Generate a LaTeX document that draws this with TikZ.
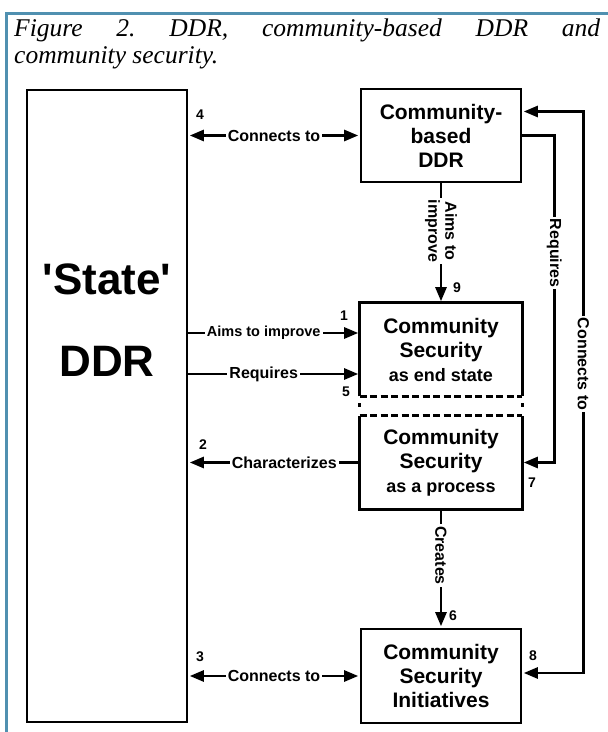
\documentclass[tikz,border=0pt]{standalone}
\usepackage{fontspec}
\usepackage{tikz}
\usetikzlibrary{arrows.meta}
\newfontfamily\arialfont{Liberation Sans}
\newfontfamily\captionfont{Liberation Serif}
\definecolor{framecol}{RGB}{80,144,176}
\frenchspacing

\begin{document}
\begin{tikzpicture}[x=1pt,y=-1pt,
	box/.style={draw, line width=2.6pt, align=center, inner sep=0pt, minimum width=160pt, font=\arialfont\bfseries\fontsize{21}{24}\selectfont},
	link/.style={line width=2.6pt},
	onehead/.style={-{Triangle[length=14pt,width=11pt]}, shorten >=1.5pt},
	twoheads/.style={{Triangle[length=14pt,width=11pt]}-{Triangle[length=14pt,width=11pt]}, shorten >=1.5pt, shorten <=1.5pt},
	lbl/.style={fill=white, inner sep=2pt, font=\arialfont\bfseries\fontsize{16}{17}\selectfont},
	num/.style={inner sep=0pt, font=\arialfont\bfseries\fontsize{14}{14}\selectfont},
	splitdash/.style={line width=2.6pt, dash pattern=on 7pt off 3.5pt},
	caption/.style={anchor=base west, inner sep=0pt, font=\captionfont\itshape\fontsize{25.5}{28}\selectfont}]
	\useasboundingbox (0,0) rectangle (608,732);
	\draw[framecol, line width=3pt] (6,732) -- (6,13) -- (608,13);
	\node[caption] (title1) at (14,36) {\makebox[586pt][s]{Figure 2. DDR, community-based DDR and}};
	\node[caption] (title2) at (14,63) {community security.};

	\node[box, minimum height=632pt] (state) at (107,406) {};
	\node[align=center, inner sep=0pt, font=\arialfont\bfseries\fontsize{44}{82}\selectfont] (statetxt) at (107,320) {\textquotesingle State\textquotesingle\\DDR};
	\node[box, minimum height=93pt] (cbddr) at (441,135.5) {Community-\\based\\DDR};
	\node[box, draw=none, minimum height=91pt] (csend) at (441,349.5) {Community\\Security\\{\fontsize{18}{20}\selectfont as end state}};
	\node[box, draw=none, minimum height=91pt] (csproc) at (441,462.5) {Community\\Security\\{\fontsize{18}{20}\selectfont as a process}};
	\node[box, minimum height=94pt] (csi) at (441,676) {Community\\Security\\Initiatives};

	\draw[link] (csend.south west) -- (csend.north west) -- (csend.north east) -- (csend.south east);
	\draw[splitdash] (csend.south west) -- (csend.south east);
	\draw[link] (csproc.north west) -- (csproc.south west) -- (csproc.south east) -- (csproc.north east);
	\draw[splitdash] (csproc.north west) -- (csproc.north east);
	\draw[link] ([yshift=-7pt]csend.south west) -- ([yshift=9pt]csproc.north west);
	\draw[link] ([yshift=-7pt]csend.south east) -- ([yshift=9pt]csproc.north east);

	\draw[link, twoheads] (state.east |- cbddr.west) -- (cbddr.west) node[lbl, midway] {Connects to};
	\draw[link, onehead] ([yshift=16.5pt]state.east |- csend.west) -- ([yshift=16.5pt]csend.west) node[lbl, pos=0.44, font=\arialfont\bfseries\fontsize{14.5}{16}\selectfont] {Aims to improve};
	\draw[link, onehead] ([yshift=-24.5pt]state.east |- csend.west) -- ([yshift=-24.5pt]csend.west) node[lbl, pos=0.44] {Requires};
	\draw[link, onehead] (csproc.west) -- (state.east |- csproc.west) node[lbl, pos=0.44] {Characterizes};
	\draw[link, twoheads] (state.east |- csi.west) -- (csi.west) node[lbl, midway] {Connects to};
	\draw[link, onehead] (cbddr.south) -- (csend.north) node[lbl, pos=0.4, rotate=-90, align=center, font=\arialfont\bfseries\fontsize{16}{17}\selectfont] {Aims to\\improve};
	\draw[link, onehead] (csproc.south) -- (csi.north) node[lbl, pos=0.39, rotate=-90] {Creates};
	\draw[link, onehead] (cbddr.east) -- ++(32,0) |- node[lbl, rotate=-90, pos=0.18] {Requires} (csproc.east);
	\draw[link, twoheads] ([yshift=3pt]csi.east) -- ++(61,0) |- node[lbl, rotate=-90, pos=0.275] {Connects to} ([yshift=24pt]cbddr.east);

	\node[num] (n1) at (344,316) {1};
	\node[num] (n2) at (203,445) {2};
	\node[num] (n3) at (200,657) {3};
	\node[num] (n4) at (200,115) {4};
	\node[num] (n5) at (346,392) {5};
	\node[num] (n6) at (453,616) {6};
	\node[num] (n7) at (532,483) {7};
	\node[num] (n8) at (533,656) {8};
	\node[num] (n9) at (457,288) {9};
\end{tikzpicture}
\end{document}
